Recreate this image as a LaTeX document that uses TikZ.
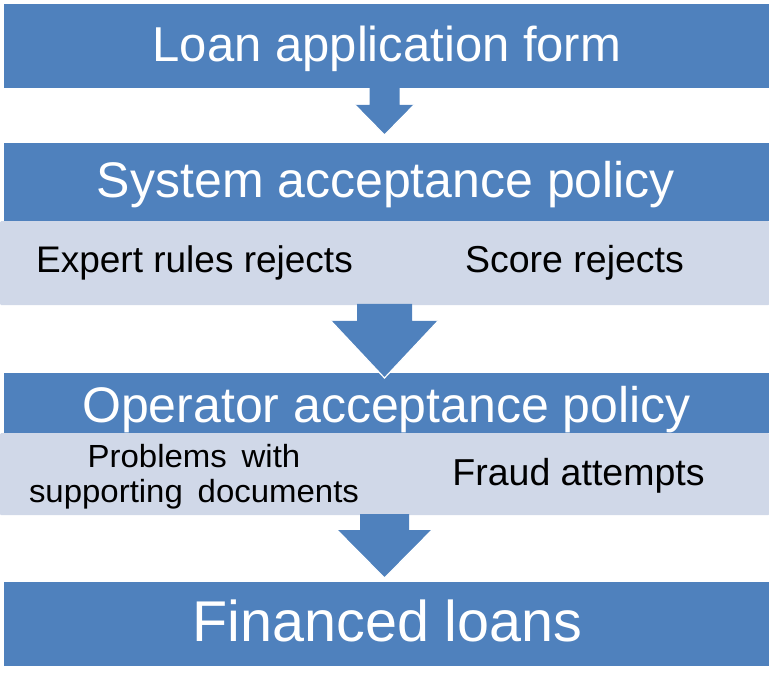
\documentclass[tikz,border=0pt]{standalone}
\usepackage{fontspec}
\setmainfont{Liberation Sans}
\usetikzlibrary{positioning}
\definecolor{barblue}{HTML}{4F81BD}
\definecolor{bandgrey}{HTML}{D0D8E8}
\newcommand{\fsize}[2]{\fontsize{#1pt}{#2pt}\selectfont}
% centre x, top, shoulder, tip, half shaft, half head
\newcommand{\flowarrow}[6]{%
	\fill[barblue] (#1-#5,#2) -- (#1+#5,#2) -- (#1+#5,#3) -- (#1+#6,#3) -- (#1,#4) -- (#1-#6,#3) -- (#1-#5,#3) -- cycle;
	\draw[white,line width=1.2pt,line join=miter] (#1-#6,#3) -- (#1,#4) -- (#1+#6,#3);}

\begin{document}
\begin{tikzpicture}[x=1pt,y=-1pt]
	\tikzset{bar/.style={fill=barblue,minimum width=765pt,inner sep=0pt,anchor=north west}}
	\tikzset{band/.style={fill=bandgrey,minimum width=769pt,inner sep=0pt,anchor=north west,rounded corners=1pt}}
	\tikzset{title/.style={anchor=base,inner sep=0pt,text=white}}
	\tikzset{reason/.style={anchor=base,inner sep=0pt,text=black}}
	\useasboundingbox (0,0) rectangle (769,687);
	\node[bar,minimum height=84pt] (form) at (4,4) {};
	\node[bar,minimum height=78pt] (system) at (4,143) {};
	\node[band,minimum height=84pt] (sysband) at (0,221) {};
	\node[bar,minimum height=60pt] (operator) at (4,373) {};
	\node[band,minimum height=82pt] (opband) at (0,433) {};
	\node[bar,minimum height=84pt] (financed) at (4,582) {};
	\flowarrow{384.5}{87}{105}{135}{15}{29.5}
	\flowarrow{384.5}{304}{321}{378}{27.5}{53.5}
	\flowarrow{384.5}{514}{530}{578}{24.5}{47.5}
	\node[title,font=\fsize{49}{49}] (formtxt) at (387,62) {Loan application form};
	\node[title,font=\fsize{50}{50}] (systxt) at (386,198) {System acceptance policy};
	\node[reason,font=\fsize{37}{37}] (expert) at (194.5,273) {Expert rules rejects};
	\node[reason,font=\fsize{37.5}{37.5}] (score) at (574.5,273) {Score rejects};
	\node[title,font=\fsize{50}{50}] (optxt) at (386.5,422) {Operator acceptance policy};
	\node[reason,font=\fsize{32}{35},align=center,xscale=1.03,anchor=north] (docs) at (194,444) {Problems\hspace{0.45em}with\\supporting\hspace{0.45em}documents};
	\node[reason,font=\fsize{37.5}{37.5}] (fraud) at (578.5,485) {Fraud attempts};
	\node[title,font=\fsize{57.5}{57.5}] (fintxt) at (387.5,641) {Financed loans};
\end{tikzpicture}
\end{document}
